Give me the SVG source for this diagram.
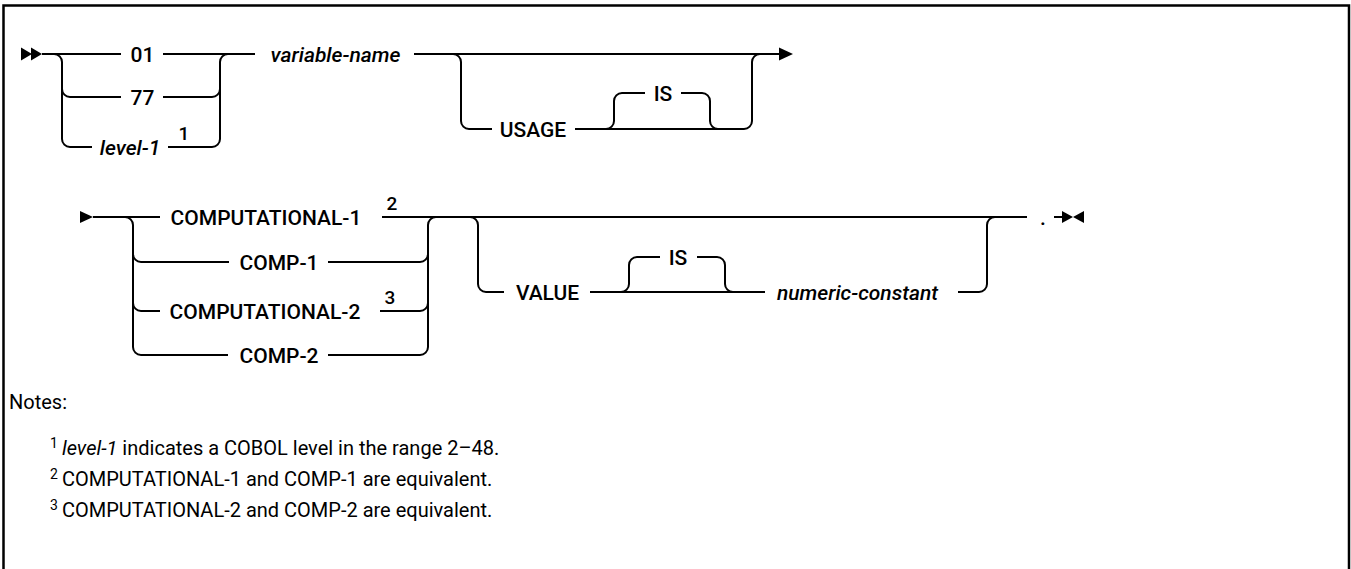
<svg xmlns="http://www.w3.org/2000/svg" width="1351" height="569" viewBox="0 0 1351 569">
<style>
.ln{fill:none;stroke:#000;stroke-width:2}
.ah{fill:#000;stroke:none}
.kw{font-family:Roboto,"Liberation Sans",sans-serif;font-size:21px;font-weight:500;fill:#000}
.it{font-style:italic}
.sup{font-family:Roboto,"Liberation Sans",sans-serif;font-size:19px;font-weight:500;fill:#000}
.nt{font-family:Roboto,"Liberation Sans",sans-serif;font-size:20px;font-weight:400;fill:#000}
.ns{font-family:Roboto,"Liberation Sans",sans-serif;font-size:14px;font-weight:400;fill:#000}
</style>
<rect width="1351" height="569" fill="#fff"/>
<path d="M3.5,569 V5.5 H1349 V569" fill="none" stroke="#000" stroke-width="2.5"/>
<g id="connectors">
<polygon class="ah" points="21,47.5 32,54 21,60.5"/>
<polygon class="ah" points="31,47.5 42,54 31,60.5"/>
<path class="ln" d="M42,54 H121 M163,54 H255 M414,54 H781"/>
<path class="ln" d="M54,54 A8,8 0 0 1 62,62 V139 A8,8 0 0 0 70,147 H92"/>
<path class="ln" d="M62,89 A8,8 0 0 0 70,97 H121"/>
<path class="ln" d="M168,147 H212 A8,8 0 0 0 220,139 V62 A8,8 0 0 1 228,54"/>
<path class="ln" d="M163,97 H212 A8,8 0 0 0 220,89"/>
<path class="ln" d="M453,54 A8,8 0 0 1 461,62 V121 A8,8 0 0 0 469,129 H492"/>
<path class="ln" d="M575,129 H744 A8,8 0 0 0 752,121 V62 A8,8 0 0 1 760,54"/>
<path class="ln" d="M606,129 A8,8 0 0 0 614,121 V101 A8,8 0 0 1 622,93 H645"/>
<path class="ln" d="M681,93 H702 A8,8 0 0 1 710,101 V121 A8,8 0 0 0 718,129"/>
<polygon class="ah" points="779,47.5 793,54 779,60.5"/>
<polygon class="ah" points="80,211 93,217 80,223"/>
<path class="ln" d="M93,217 H160 M382,217 H1027 M1054,217 H1064"/>
<path class="ln" d="M125,217 A8,8 0 0 1 133,225 V347 A8,8 0 0 0 141,355 H228"/>
<path class="ln" d="M133,254 A8,8 0 0 0 141,262 H229"/>
<path class="ln" d="M133,303 A8,8 0 0 0 141,311 H160"/>
<path class="ln" d="M328,355 H420 A8,8 0 0 0 428,347 V225 A8,8 0 0 1 436,217"/>
<path class="ln" d="M328,262 H420 A8,8 0 0 0 428,254"/>
<path class="ln" d="M380,311 H420 A8,8 0 0 0 428,303"/>
<path class="ln" d="M470,217 A8,8 0 0 1 478,225 V284 A8,8 0 0 0 486,292 H504"/>
<path class="ln" d="M590,292 H765"/>
<path class="ln" d="M621,292 A8,8 0 0 0 629,284 V265 A8,8 0 0 1 637,257 H660"/>
<path class="ln" d="M697,257 H717 A8,8 0 0 1 725,265 V284 A8,8 0 0 0 733,292"/>
<path class="ln" d="M958,292 H979 A8,8 0 0 0 987,284 V225 A8,8 0 0 1 995,217"/>
<polygon class="ah" points="1062,211 1073,217 1062,223"/>
<polygon class="ah" points="1084,211 1073,217 1084,223"/>
</g>
<g id="n-01"><text class="kw" x="142.5" y="61.5" text-anchor="middle">01</text></g>
<g id="n-77"><text class="kw" x="142.5" y="104.5" text-anchor="middle">77</text></g>
<g id="n-level1"><text class="kw it" x="130" y="154.5" text-anchor="middle">level-1</text><text class="sup" x="184" y="140" text-anchor="middle">1</text></g>
<g id="n-varname"><text class="kw it" x="335.5" y="61.5" text-anchor="middle">variable-name</text></g>
<g id="n-usage"><text class="kw" x="533" y="136.5" text-anchor="middle">USAGE</text></g>
<g id="n-is1"><text class="kw" x="663" y="100.5" text-anchor="middle">IS</text></g>
<g id="n-comp1l"><text class="kw" x="266" y="224.5" text-anchor="middle">COMPUTATIONAL-1</text><text class="sup" x="392" y="210" text-anchor="middle">2</text></g>
<g id="n-comp1"><text class="kw" x="279" y="269.5" text-anchor="middle">COMP-1</text></g>
<g id="n-comp2l"><text class="kw" x="265" y="318.5" text-anchor="middle">COMPUTATIONAL-2</text><text class="sup" x="390" y="304" text-anchor="middle">3</text></g>
<g id="n-comp2"><text class="kw" x="279" y="362.5" text-anchor="middle">COMP-2</text></g>
<g id="n-value"><text class="kw" x="547.5" y="299.5" text-anchor="middle">VALUE</text></g>
<g id="n-is2"><text class="kw" x="678" y="264.5" text-anchor="middle">IS</text></g>
<g id="n-numconst"><text class="kw it" x="857.5" y="299.5" text-anchor="middle">numeric-constant</text></g>
<g id="n-period"><text class="kw" x="1043" y="224.5" text-anchor="middle">.</text></g>
<g id="notes">
<text class="nt" x="9" y="409">Notes:</text>
<text class="ns" x="50" y="448">1</text>
<text class="nt" x="62" y="455"><tspan font-style="italic">level-1</tspan> indicates a COBOL level in the range 2–48.</text>
<text class="ns" x="50" y="479">2</text>
<text class="nt" x="62" y="486">COMPUTATIONAL-1 and COMP-1 are equivalent.</text>
<text class="ns" x="50" y="510">3</text>
<text class="nt" x="62" y="517">COMPUTATIONAL-2 and COMP-2 are equivalent.</text>
</g>
</svg>
